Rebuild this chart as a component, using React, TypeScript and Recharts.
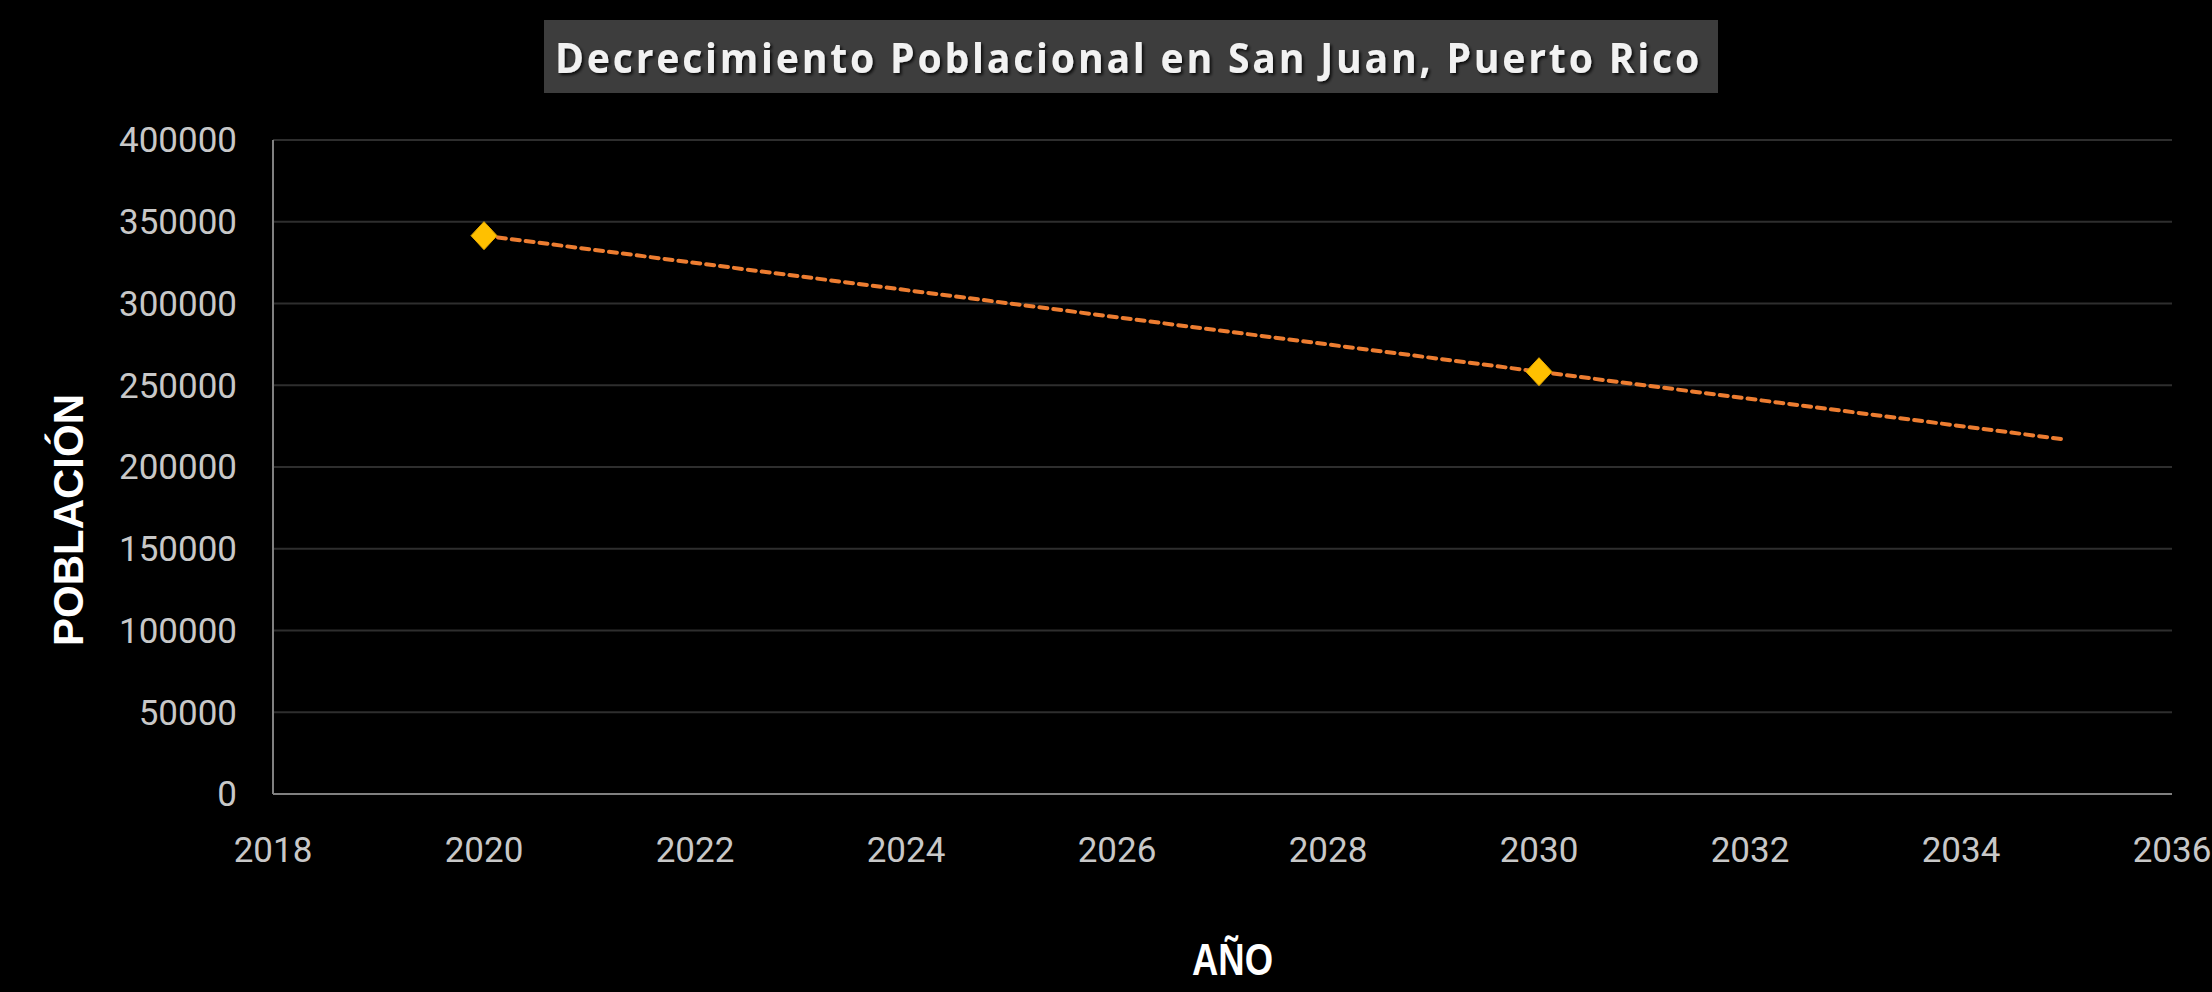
import React from "react";
import { CartesianGrid, ComposedChart, Line, XAxis, YAxis } from "recharts";

const years = [2020, 2030, 2035];
const poblacion = [341500, 258300, null];
const tendencia = [341500, 258300, 216700];
const xTicks = [2018, 2020, 2022, 2024, 2026, 2028, 2030, 2032, 2034, 2036];
const yTicks = [0, 50000, 100000, 150000, 200000, 250000, 300000, 350000, 400000];

const data = years.map((year, i) => ({
	year,
	poblacion: poblacion[i],
	tendencia: tendencia[i],
}));

const W = 2212;
const H = 992;

type DotProps = { cx?: number; cy?: number; value?: number | null; index?: number };

function Diamond({ cx, cy, value, index }: DotProps) {
	if (cx == null || cy == null || value == null) return <g key={`d-${index}`} />;
	const rx = 13;
	const ry = 14;
	return (
		<path
			key={`d-${index}`}
			d={`M${cx},${cy - ry} L${cx + rx},${cy} L${cx},${cy + ry} L${cx - rx},${cy} Z`}
			fill="#FFC000"
			stroke="#E6A800"
			strokeWidth={1}
		/>
	);
}

const tickStyle = { fill: "#c8c8c8", fontSize: 35, fontFamily: "Roboto, sans-serif" };

export default function App() {
	return (
		<div style={{ position: "absolute", left: 0, top: 0, width: W, height: H, background: "#000" }}>
			<ComposedChart width={W} height={H} data={data} margin={{ top: 140, right: 40, bottom: 0, left: 0 }}>
				<CartesianGrid vertical={false} stroke="#2e2e2e" strokeWidth={2} />
				<XAxis
					dataKey="year"
					type="number"
					domain={[2018, 2036]}
					ticks={xTicks}
					height={198}
					tickSize={0}
					tickMargin={43}
					tick={tickStyle}
					stroke="#808080"
					strokeWidth={2}
					allowDataOverflow
				/>
				<YAxis
					type="number"
					domain={[0, 400000]}
					ticks={yTicks}
					width={273}
					tickSize={0}
					tickMargin={36}
					tick={tickStyle}
					stroke="#808080"
					strokeWidth={2}
					tickFormatter={(v: number) => String(v)}
				/>
				<Line
					dataKey="poblacion"
					stroke="none"
					dot={<Diamond />}
					activeDot={false}
					isAnimationActive={false}
				/>
				<Line
					dataKey="tendencia"
					stroke="#ED7D31"
					strokeWidth={4}
					strokeDasharray="8 6"
					strokeLinecap="round"
					dot={false}
					activeDot={false}
					isAnimationActive={false}
				/>
			</ComposedChart>
			<svg
				width={W}
				height={H}
				style={{ position: "absolute", left: 0, top: 0, pointerEvents: "none" }}
			>
				<defs>
					<filter id="shadow" x="-5%" y="-30%" width="110%" height="160%">
						<feDropShadow dx="2" dy="2" stdDeviation="1.5" floodColor="#000" floodOpacity="0.8" />
					</filter>
				</defs>
				<rect x={544} y={20} width={1174} height={73} fill="#3d3d3d" />
				<text
					x={555}
					y={73}
					textLength={1147}
					lengthAdjust="spacingAndGlyphs"
					fill="#f2f2f2"
					fontSize={42}
					fontWeight={700}
					fontFamily="'Open Sans', sans-serif"
					letterSpacing={3}
					filter="url(#shadow)"
				>
					Decrecimiento Poblacional en San Juan, Puerto Rico
				</text>
				<text
					transform="translate(83,520) rotate(-90)"
					textAnchor="middle"
					fill="#ffffff"
					fontSize={42}
					fontWeight={700}
					fontFamily="'Liberation Sans', Arial, sans-serif"
				>
					POBLACIÓN
				</text>
				<text
					x={1192}
					y={975}
					textLength={81}
					lengthAdjust="spacingAndGlyphs"
					fill="#ffffff"
					fontSize={44}
					fontWeight={700}
					fontFamily="'Liberation Sans', Arial, sans-serif"
				>
					AÑO
				</text>
			</svg>
		</div>
	);
}
